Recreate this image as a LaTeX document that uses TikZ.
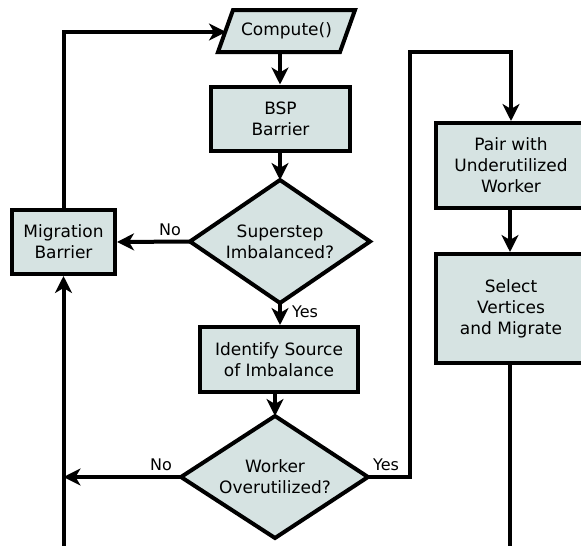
\documentclass[tikz,border=0pt]{standalone}
\usepackage{fontspec}
\setmainfont{DejaVu Sans}
\usetikzlibrary{arrows.meta}
\definecolor{boxfill}{RGB}{214,227,226}
\tikzset{
  box/.style={draw=black, fill=boxfill, line width=4pt, rectangle, align=center, inner sep=0pt},
  shapeline/.style={draw=black, fill=boxfill, line width=4pt, line join=miter},
  conn/.style={line width=4pt, draw=black},
  arr/.style={conn, -{Stealth[length=17pt,width=17pt,inset=5pt]}},
  lbl/.style={font=\fontsize{16}{19}\selectfont, inner sep=0pt},
  txt/.style={align=center, inner sep=0pt}
}
\begin{document}
\begin{tikzpicture}[x=1pt,y=-1pt,font=\fontsize{17}{21}\selectfont]
\useasboundingbox (0,0) rectangle (581,546);
\clip (0,0) rectangle (581,546);
% Compute parallelogram
\draw[shapeline] (218,52) -- (233,10) -- (355,10) -- (340,52) -- cycle;
\node[txt] (compute) at (286.5,31) {Compute()};
\coordinate (cbot) at (280,52);
\coordinate (cleft) at (226,32);
% diamonds
\draw[shapeline] (190,241.5) -- (280,180) -- (370,241.5) -- (280,303) -- cycle;
\node[txt] (d1) at (280,241.5) {Superstep\\Imbalanced?};
\coordinate (d1n) at (280,180);
\coordinate (d1w) at (190,241.5);
\coordinate (d1s) at (280,303);
\draw[shapeline] (181,477) -- (275,416) -- (368,477) -- (275,538) -- cycle;
\node[txt] (d2) at (275,477) {Worker\\Overutilized?};
\coordinate (d2n) at (275,416);
\coordinate (d2w) at (181,477);
\coordinate (d2e) at (368,477);
% boxes
\node[box, minimum width=139pt, minimum height=64pt] (bsp) at (280.5,118.5) {BSP\\Barrier};
\node[box, minimum width=103pt, minimum height=64pt] (mig) at (63.5,242) {Migration\\Barrier};
\node[box, minimum width=158pt, minimum height=65pt] (ident) at (279,359.5) {Identify Source\\of Imbalance};
\node[box, minimum width=150pt, minimum height=85pt] (pair) at (511,165.5) {Pair with\\Underutilized\\Worker};
\node[box, minimum width=150pt, minimum height=109pt] (sel) at (511,308.5) {Select\\Vertices\\and Migrate};
% helper coordinates
\coordinate (ytop) at (410,52);
\coordinate (bottomL) at (63.5,547.6);
\coordinate (bottomR) at (510,547.6);
\coordinate (nojoin) at (63.5,477);
% connectors
\draw[arr] (cbot) -- (bsp.north -| cbot);
\draw[arr] (bsp.south -| d1n) -- (d1n);
\draw[arr] (d1w) -- (mig.east);
\draw[arr] (mig.north) |- (cleft);
\draw[arr] (d1s) -- (ident.north -| d1s);
\draw[arr] (ident.south -| d2n) -- (d2n);
\draw[arr] (d2w) -- (nojoin);
\draw[arr] (d2e) -| (ytop) -| (pair.north);
\draw[arr] (pair.south -| bottomR) -- (sel.north -| bottomR);
\draw[conn] (sel.south -| bottomR) -- (bottomR) -- (bottomL);
\draw[arr] (bottomL) -- (mig.south);
% labels
\node[lbl] (no1) at (170,230) {No};
\node[lbl] (yes1) at (305,312) {Yes};
\node[lbl] (no2) at (161,465) {No};
\node[lbl] (yes2) at (386,465) {Yes};
\end{tikzpicture}
\end{document}
